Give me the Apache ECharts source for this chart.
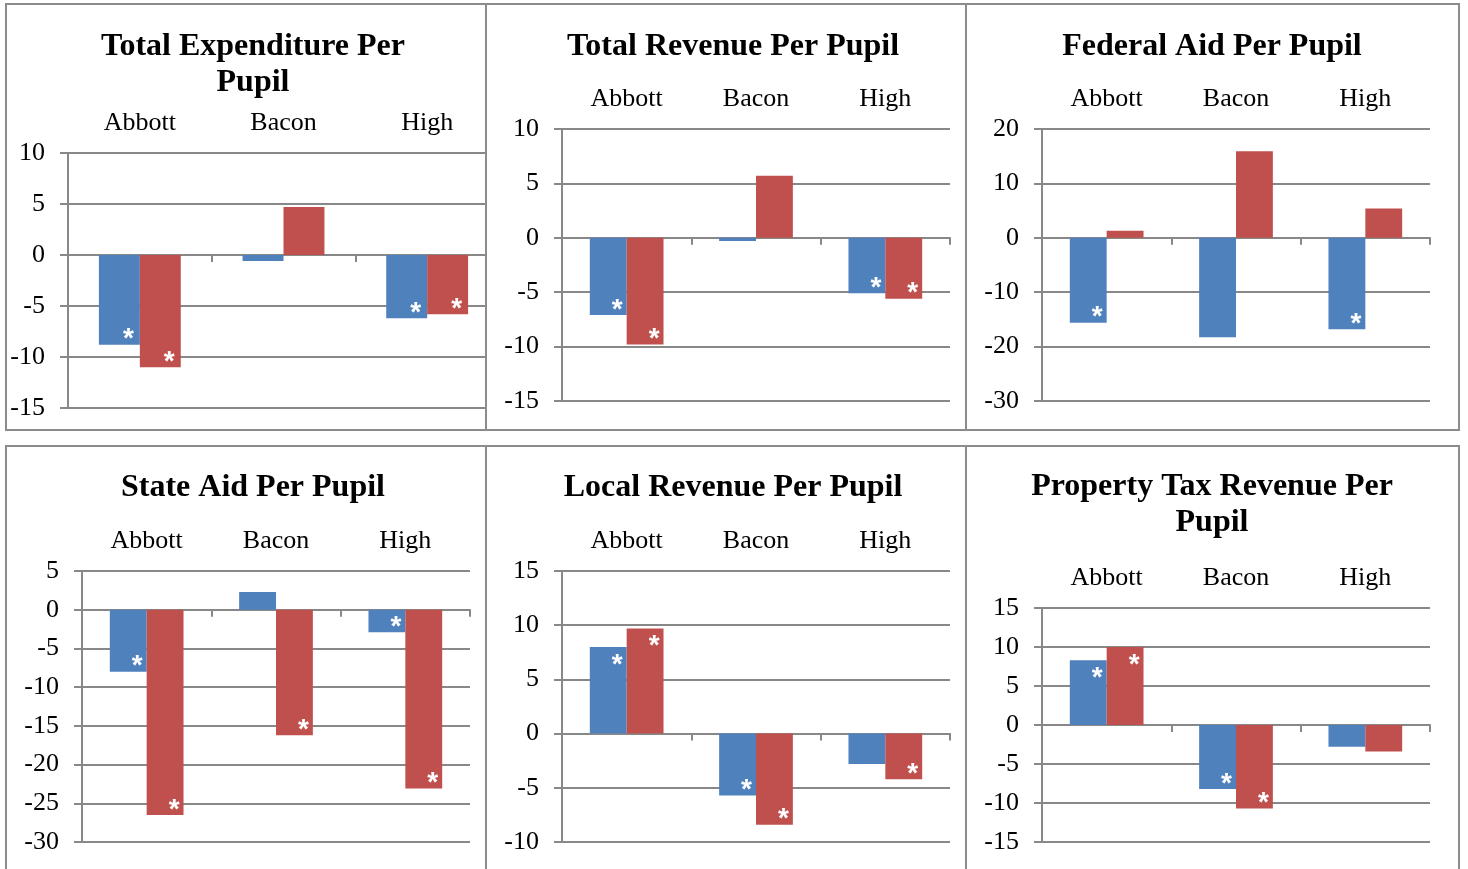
<!DOCTYPE html>
<html>
<head>
<meta charset="utf-8">
<script src="https://cdn.jsdelivr.net/npm/echarts@6/dist/echarts.min.js"></script>
<style>
  html, body { margin: 0; padding: 0; background: #fff; }
  #chart { width: 1468px; height: 869px; }
</style>
</head>
<body>
<div id="chart"></div>
<script>
// ---- data ----
const categories = ['Abbott', 'Bacon', 'High'];

const panelTitles = [
  'Total Expenditure Per\nPupil',
  'Total Revenue Per Pupil',
  'Federal Aid Per Pupil',
  'State Aid Per Pupil',
  'Local Revenue Per Pupil',
  'Property Tax Revenue Per\nPupil'
];

const expenditureBlue = [-8.8, -0.6, -6.2];
const expenditureRed  = [-11.0, 4.7, -5.8];
const expenditureBlueStar = [1, 0, 1];
const expenditureRedStar  = [1, 0, 1];

const revenueBlue = [-7.1, -0.3, -5.1];
const revenueRed  = [-9.8, 5.7, -5.6];
const revenueBlueStar = [1, 0, 1];
const revenueRedStar  = [1, 0, 1];

const federalBlue = [-15.6, -18.3, -16.8];
const federalRed  = [1.3, 15.9, 5.4];
const federalBlueStar = [1, 0, 1];
const federalRedStar  = [0, 0, 0];

const stateBlue = [-8.0, 2.3, -2.9];
const stateRed  = [-26.5, -16.2, -23.1];
const stateBlueStar = [1, 0, 1];
const stateRedStar  = [1, 1, 1];

const localBlue = [8.0, -5.7, -2.8];
const localRed  = [9.7, -8.4, -4.2];
const localBlueStar = [1, 1, 0];
const localRedStar  = [1, 1, 1];

const propertyBlue = [8.3, -8.2, -2.8];
const propertyRed  = [10.0, -10.7, -3.4];
const propertyBlueStar = [1, 1, 0];
const propertyRedStar  = [1, 1, 0];

// value-axis ticks per panel
const yMin      = [-15, -15, -30, -30, -10, -15];
const yMax      = [10, 10, 20, 5, 15, 15];
const yInterval = [5, 5, 10, 5, 5, 5];

const blueSeries = [expenditureBlue, revenueBlue, federalBlue, stateBlue, localBlue, propertyBlue];
const redSeries  = [expenditureRed, revenueRed, federalRed, stateRed, localRed, propertyRed];
const blueStars  = [expenditureBlueStar, revenueBlueStar, federalBlueStar, stateBlueStar, localBlueStar, propertyBlueStar];
const redStars   = [expenditureRedStar, revenueRedStar, federalRedStar, stateRedStar, localRedStar, propertyRedStar];

// ---- layout ----
const plots = [
  { left: 68,   top: 153, width: 431, height: 255 },
  { left: 562,  top: 129, width: 388, height: 272 },
  { left: 1042, top: 129, width: 388, height: 272 },
  { left: 82,   top: 571, width: 388, height: 271 },
  { left: 562,  top: 571, width: 388, height: 271 },
  { left: 1042, top: 608, width: 388, height: 234 }
];
const titlePos = [
  { x: 253,  y: 29 }, { x: 733, y: 29 }, { x: 1212, y: 29 },
  { x: 253,  y: 470 }, { x: 733, y: 470 }, { x: 1212, y: 469 }
];
const panelBoxes = [
  { x: 6,   y: 4,   w: 480, h: 426 },
  { x: 486, y: 4,   w: 480, h: 426 },
  { x: 966, y: 4,   w: 493, h: 426 },
  { x: 6,   y: 446, w: 480, h: 440 },
  { x: 486, y: 446, w: 480, h: 440 },
  { x: 966, y: 446, w: 493, h: 440 }
];

const GREY = '#888888';
const BLUE = '#4F81BD';
const RED = '#C0504D';
const SERIF = '"Liberation Serif", "Times New Roman", serif';

function starLabel(v) {
  return {
    show: true,
    formatter: '*',
    position: v < 0 ? ['50%', '100%'] : ['50%', 0],
    align: 'center',
    verticalAlign: 'middle',
    offset: v < 0 ? [9, -5] : [9, 18],
    color: '#ffffff',
    fontSize: 28,
    fontWeight: 'bold',
    fontFamily: '"Liberation Sans", Arial, sans-serif'
  };
}

function barSeries(name, values, stars, color, gi) {
  return {
    type: 'bar',
    name: name,
    xAxisIndex: gi * 2,
    yAxisIndex: gi,
    barGap: '0%',
    barCategoryGap: '43%',
    itemStyle: { color: color },
    data: values.map((v, k) => ({
      value: v,
      label: stars[k] ? starLabel(v) : { show: false }
    }))
  };
}

const grids = [], xAxes = [], yAxes = [], series = [], titles = [];

plots.forEach((p, i) => {
  grids.push({ left: p.left, top: p.top, width: p.width, height: p.height, containLabel: false });

  // axis line with category ticks, sitting on zero
  xAxes.push({
    type: 'category', gridIndex: i, data: categories, position: 'bottom',
    axisLine: { show: true, onZero: true, lineStyle: { color: GREY, width: 2 } },
    axisTick: { show: true, length: 7, inside: false, lineStyle: { color: GREY, width: 2 } },
    axisLabel: { show: false },
    splitLine: { show: false }
  });
  // category names across the top of the plot
  xAxes.push({
    type: 'category', gridIndex: i, data: categories, position: 'top',
    axisLine: { show: false, onZero: false },
    axisTick: { show: false },
    axisLabel: {
      show: true, margin: 30, verticalAlign: 'middle',
      color: '#000', fontSize: 26, fontFamily: SERIF
    },
    splitLine: { show: false }
  });

  yAxes.push({
    type: 'value', gridIndex: i,
    min: yMin[i], max: yMax[i], interval: yInterval[i],
    axisLine: { show: true, lineStyle: { color: GREY, width: 2 } },
    axisTick: { show: true, length: 8, inside: false, lineStyle: { color: GREY, width: 2 } },
    splitLine: { show: true, lineStyle: { color: GREY, width: 2 } },
    axisLabel: {
      margin: 23, color: '#000', fontSize: 26, fontFamily: SERIF,
      verticalAlign: 'middle'
    }
  });

  series.push(barSeries('Series 1', blueSeries[i], blueStars[i], BLUE, i));
  series.push(barSeries('Series 2', redSeries[i], redStars[i], RED, i));

  titles.push({
    text: panelTitles[i],
    left: titlePos[i].x,
    top: titlePos[i].y,
    textAlign: 'center',
    padding: 0,
    textStyle: {
      fontFamily: SERIF, fontWeight: 'bold', fontSize: 32,
      lineHeight: 36, color: '#000'
    }
  });
});

// panel frames; the first plot runs past its frame and is trimmed by the neighbour
const graphics = [
  { type: 'rect', z: 100, shape: { x: 487, y: 5, width: 14, height: 424 },
    style: { fill: '#ffffff', stroke: null } }
];
panelBoxes.forEach(b => {
  graphics.push({
    type: 'rect', z: 101,
    shape: { x: b.x, y: b.y, width: b.w, height: b.h },
    style: { fill: null, stroke: '#8c8c8c', lineWidth: 2 }
  });
});

const chart = echarts.init(document.getElementById('chart'), null, { renderer: 'canvas' });
chart.setOption({
  animation: false,
  backgroundColor: '#ffffff',
  title: titles,
  grid: grids,
  xAxis: xAxes,
  yAxis: yAxes,
  series: series,
  graphic: graphics
});
</script>
</body>
</html>
